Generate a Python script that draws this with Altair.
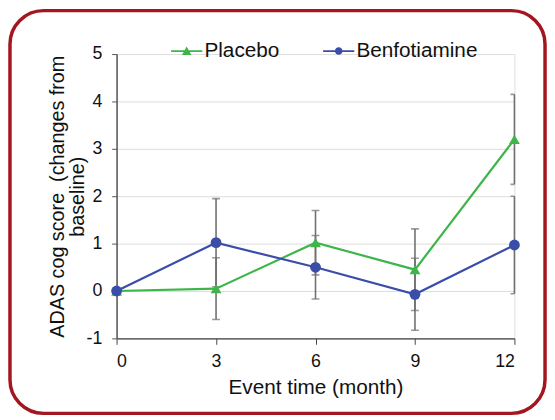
import altair as alt
import pandas as pd

months = [0, 3, 6, 9, 12]
placebo = [0.0, 0.05, 1.02, 0.45, 3.2]
placebo_err = [0.0, 0.65, 0.68, 0.86, 0.95]
benfo = [0.0, 1.02, 0.5, -0.07, 0.97]
benfo_err = [0.0, 0.93, 0.67, 0.76, 1.03]
series_names = ["Placebo", "Benfotiamine"]
series_colors = ["#3db54a", "#3a4da8"]
series_shapes = ["triangle-up", "circle"]
legend_shapes = [
    "M-1,-0.06H1V0.06H-1Z M0,-0.3L0.3,0.25H-0.3Z",
    "M-1,-0.06H1V0.06H-1Z M0.24,0A0.24,0.24 0 1 1 -0.24,0A0.24,0.24 0 1 1 0.24,0Z",
]

rows = []
for name, vals, errs in [(series_names[0], placebo, placebo_err), (series_names[1], benfo, benfo_err)]:
    for m, v, e in zip(months, vals, errs):
        rows.append({"month": m, "value": v, "lo": v - e, "hi": v + e, "series": name, "err": e})
df = pd.DataFrame(rows)
df_err = df[df["err"] > 0]

FONT = "Liberation Sans"

xscale = alt.Scale(domain=[0, 12], nice=False)
yscale = alt.Scale(domain=[-1, 5], nice=False)
cscale = alt.Scale(domain=series_names, range=series_colors)
sscale = alt.Scale(domain=series_names, range=series_shapes)
lscale = alt.Scale(domain=series_names, range=legend_shapes)

x_enc = alt.X("month:Q", scale=xscale,
              axis=alt.Axis(values=months, title="Event time (month)", grid=False,
                            domainColor="#444", domainWidth=1.5, tickColor="#444", tickSize=6,
                            labelFontSize=18, labelColor="#111", labelPadding=9,
                            titleFontSize=21, titleColor="#111", titleFontWeight="normal",
                            titlePadding=6, labelFont=FONT, titleFont=FONT))
y_enc = alt.Y("value:Q", scale=yscale,
              axis=alt.Axis(values=[-1, 0, 1, 2, 3, 4, 5],
                            labelExpr="'' + datum.value",
                            title=["ADAS cog score\u00a0 (changes from", "baseline)"],
                            grid=True, gridColor="#dcdcdc",
                            gridOpacity=alt.condition("datum.value >= 5", alt.value(0), alt.value(1)),
                            domainColor="#555", domainWidth=1.5, tickColor="#555", tickSize=5,
                            labelFontSize=18, labelColor="#111", labelPadding=10,
                            titleFontSize=20, titleColor="#111", titleFontWeight="normal",
                            titlePadding=-2, titleLineHeight=21,
                            labelFont=FONT, titleFont=FONT))

base = alt.Chart(df)

frame = alt.Chart(pd.DataFrame({"a": [0]})).mark_rect(
    fillOpacity=0, stroke="#a3151f", strokeWidth=3.5, cornerRadius=34, clip=False
).encode(x=alt.value(-108), x2=alt.value(434), y=alt.value(-44), y2=alt.value(364))

err_rule = alt.Chart(df_err).mark_rule(color="#707070", strokeWidth=1.6).encode(
    x="month:Q", y=alt.Y("lo:Q", scale=yscale), y2="hi:Q")
err_lo = alt.Chart(df_err).mark_tick(color="#707070", thickness=1.6, size=8, orient="horizontal", clip=True).encode(
    x=alt.X("month:Q", scale=xscale), y=alt.Y("lo:Q", scale=yscale))
err_hi = alt.Chart(df_err).mark_tick(color="#707070", thickness=1.6, size=8, orient="horizontal", clip=True).encode(
    x=alt.X("month:Q", scale=xscale), y=alt.Y("hi:Q", scale=yscale))

lines = base.mark_line(strokeWidth=2.2).encode(
    x=x_enc, y=y_enc,
    color=alt.Color("series:N", scale=cscale, legend=None),
    detail="series:N")

points = base.mark_point(filled=True, size=120, opacity=1).encode(
    x=alt.X("month:Q", scale=xscale), y=alt.Y("value:Q", scale=yscale),
    color=alt.Color("series:N", scale=cscale, legend=None),
    shape=alt.Shape("series:N", scale=sscale, legend=None))

leg = dict(title=None, orient="none", direction="horizontal",
           legendX=55, legendY=-19, symbolSize=1000,
           symbolOpacity=1, symbolStrokeWidth=0,
           labelFontSize=21, labelColor="#111", labelFont=FONT,
           columnPadding=44, labelOffset=2)

legend_layer = base.mark_point(filled=True, opacity=0, size=1000).encode(
    x=alt.X("month:Q", scale=xscale), y=alt.Y("value:Q", scale=yscale),
    shape=alt.Shape("series:N", scale=lscale, legend=alt.Legend(**leg)),
    color=alt.Color("series:N", scale=cscale, legend=alt.Legend(**leg)))

chart = alt.layer(frame, err_rule, err_lo, err_hi, lines, points, legend_layer).resolve_scale(
    shape="independent", color="independent"
).properties(
    width=403, height=288,
    autosize=alt.AutoSizeParams(type="none"),
    padding={"left": 110, "top": 44, "right": 33, "bottom": 78},
).configure_view(stroke=None).configure(background="white")

chart.save("out.html", embed_options={"renderer": "svg", "actions": False})
